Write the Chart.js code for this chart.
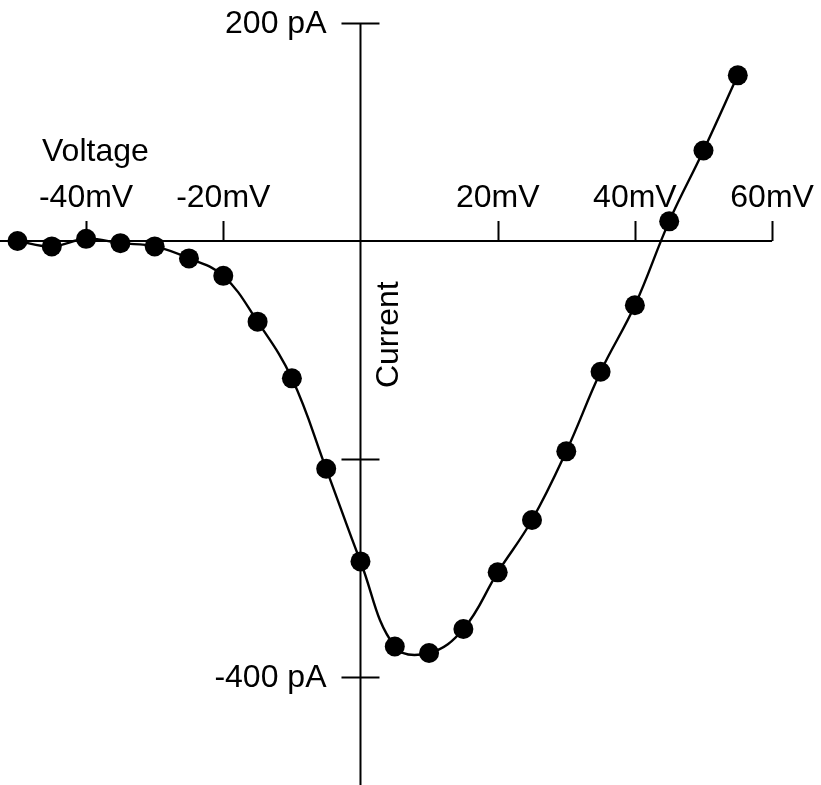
<!DOCTYPE html>
<html>
<head>
<meta charset="utf-8">
<title>I-V curve</title>
<script src="https://cdn.jsdelivr.net/npm/chart.js@4.4.1/dist/chart.umd.min.js"></script>
<style>
  html, body { margin: 0; padding: 0; background: #fff; }
  canvas { display: block; }
</style>
</head>
<body>
<canvas id="iv" width="821" height="785"></canvas>
<script>
// membrane voltage steps (mV) and peak current (pA)
const voltages = [-50, -45, -40, -35, -30, -25, -20, -15, -10, -5, 0, 5, 10, 15, 20, 25, 30, 35, 40, 45, 50, 55];
const currents = [0, -5, 2, -2, -5, -16, -32, -74, -126, -209, -294, -372, -378, -356, -304, -256, -193, -120, -59, 18, 83, 152];

const xTicks = [-40, -20, 20, 40, 60];
const xTickLabels = ["-40mV", "-20mV", "20mV", "40mV", "60mV"];
const yTicks = [200, -200, -400];
const yTickLabels = ["200 pA", "", "-400 pA"];

const FONT = '32px "Liberation Sans", Arial, sans-serif';

// axes cross at the origin, so they are drawn by hand from the scales
const crossAxes = {
  id: "crossAxes",
  beforeDatasetsDraw(chart) {
    const { ctx, scales: { x, y } } = chart;
    const x0 = x.getPixelForValue(0);
    const y0 = y.getPixelForValue(0);
    ctx.save();
    ctx.strokeStyle = "#000";
    ctx.fillStyle = "#000";
    ctx.lineWidth = 2;

    // voltage axis
    ctx.beginPath();
    ctx.moveTo(x.left, y0);
    ctx.lineTo(x.getPixelForValue(60), y0);
    xTicks.forEach(v => {
      const px = Math.round(x.getPixelForValue(v)) + 0.5;
      ctx.moveTo(px, y0);
      ctx.lineTo(px, y0 - 20);
    });
    ctx.stroke();

    // current axis
    ctx.beginPath();
    ctx.moveTo(x0, y.getPixelForValue(200));
    ctx.lineTo(x0, y.bottom);
    yTicks.forEach(v => {
      const py = Math.round(y.getPixelForValue(v)) + 0.5;
      ctx.moveTo(x0 - 19, py);
      ctx.lineTo(x0 + 19, py);
    });
    ctx.stroke();

    ctx.font = FONT;
    ctx.textAlign = "center";
    ctx.textBaseline = "alphabetic";
    xTicks.forEach((v, i) => {
      ctx.fillText(xTickLabels[i], x.getPixelForValue(v), y0 - 34);
    });

    ctx.textAlign = "right";
    ctx.textBaseline = "middle";
    yTicks.forEach((v, i) => {
      if (yTickLabels[i]) ctx.fillText(yTickLabels[i], x0 - 34, y.getPixelForValue(v) + 1);
    });

    // axis titles
    ctx.textAlign = "left";
    ctx.textBaseline = "alphabetic";
    ctx.fillText("Voltage", 42, 161);

    ctx.save();
    ctx.translate(x0 + 29, y.getPixelForValue(-86));
    ctx.rotate(-Math.PI / 2);
    ctx.textAlign = "center";
    ctx.textBaseline = "middle";
    ctx.fillText("Current", 0, 0);
    ctx.restore();

    ctx.restore();
  }
};

new Chart(document.getElementById("iv"), {
  type: "line",
  data: {
    labels: voltages,
    datasets: [{
      data: voltages.map((v, i) => ({ x: v, y: currents[i] })),
      borderColor: "#000",
      borderWidth: 2.4,
      backgroundColor: "#000",
      pointRadius: 10,
      pointBackgroundColor: "#000",
      pointBorderWidth: 0,
      tension: 0.4,
      fill: false
    }]
  },
  options: {
    responsive: false,
    animation: false,
    layout: { padding: 0, autoPadding: false },
    plugins: {
      legend: { display: false },
      tooltip: { enabled: false }
    },
    scales: {
      x: { type: "linear", min: -52.55, max: 67.13, display: false },
      y: { type: "linear", min: -499.1, max: 221.1, display: false }
    }
  },
  plugins: [crossAxes]
});
</script>
</body>
</html>
